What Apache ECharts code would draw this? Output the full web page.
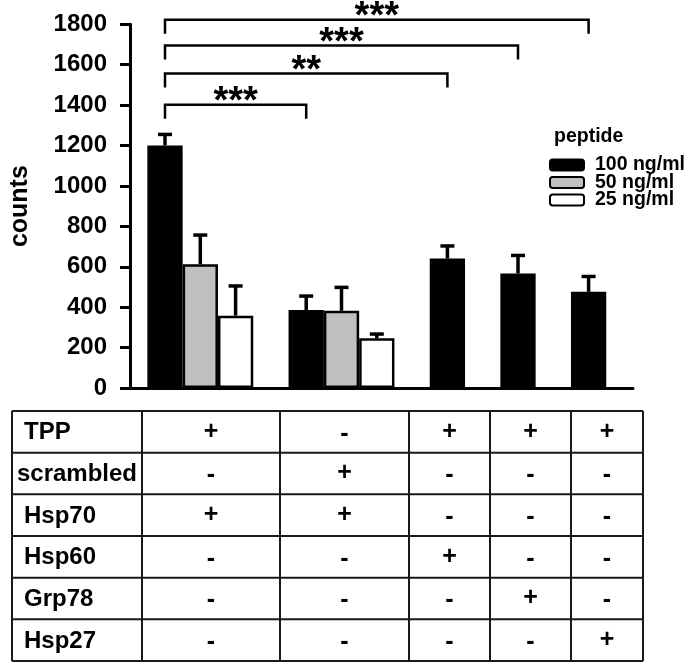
<!DOCTYPE html>
<html>
<head>
<meta charset="utf-8">
<script src="https://cdn.jsdelivr.net/npm/echarts@6/dist/echarts.min.js"></script>
<style>
html,body{margin:0;padding:0;background:#fff;}
#chart{width:688px;height:665px;}
</style>
</head>
<body>
<div id="chart"></div>
<script>
// ---------------- DATA ----------------
const groups = ['TPP + Hsp70', 'scrambled + Hsp70', 'TPP + Hsp60', 'TPP + Grp78', 'TPP + Hsp27'];
const seriesNames = ['100 ng/ml', '50 ng/ml', '25 ng/ml'];
const mean100 = [1200, 386, 641, 567, 476];
const err100  = [55, 69, 62, 89, 76];
const mean50  = [612, 382, null, null, null];
const err50   = [145, 116, null, null, null];
const mean25  = [358, 246, null, null, null];
const err25   = [147, 21, null, null, null];
const yTicks = [0, 200, 400, 600, 800, 1000, 1200, 1400, 1600, 1800];
// significance brackets: from group, to group (100 ng/ml bars), level (counts), label
const bracketFrom  = [0, 0, 0, 0];
const bracketTo    = [1, 2, 3, 4];
const bracketLevel = [1402, 1556, 1695, 1823];
const bracketLabel = ['***', '**', '***', '***'];
// condition table
const tableRows = ['TPP', 'scrambled', 'Hsp70', 'Hsp60', 'Grp78', 'Hsp27'];
const rowTPP       = ['+', '-', '+', '+', '+'];
const rowScrambled = ['-', '+', '-', '-', '-'];
const rowHsp70     = ['+', '+', '-', '-', '-'];
const rowHsp60     = ['-', '-', '+', '-', '-'];
const rowGrp78     = ['-', '-', '-', '+', '-'];
const rowHsp27     = ['-', '-', '-', '-', '+'];
const tableMarks = [rowTPP, rowScrambled, rowHsp70, rowHsp60, rowGrp78, rowHsp27];

// ---------------- LAYOUT (code) ----------------
const FONT = '"Liberation Sans", Arial, Helvetica, sans-serif';
const means = [mean100, mean50, mean25];
const errs = [err100, err50, err25];
// slot layout: each group occupies (number of bars) slots plus one gap slot
const groupStart = [];
let cursor = 0;
groups.forEach((g, gi) => {
  groupStart.push(cursor);
  const n = means.filter(m => m[gi] != null).length;
  cursor += n + 1;
});
const nSlots = cursor - 1;
const slotNames = [];
for (let i = 0; i < nSlots; i++) slotNames.push('s' + i);
const barSeriesData = means.map(() => new Array(nSlots).fill('-'));
const errData = [];
means.forEach((m, si) => {
  m.forEach((v, gi) => {
    if (v == null) return;
    const slot = groupStart[gi] + si;
    barSeriesData[si][slot] = v;
    errData.push([slot, v, errs[si][gi]]);
  });
});
const bracketData = bracketFrom.map((f, i) => [groupStart[f], bracketLevel[i], groupStart[bracketTo[i]]]);

const colors = ['#000000', '#c0c0c0', '#ffffff'];

// ---------------- TABLE (graphic) ----------------
const colX = [12, 142, 280, 409, 490, 571, 643];
const tableTop = 411, rowH = 41.67;
const graphics = [];
const tableFont = 'bold 24px ' + FONT;
const mctx = document.createElement('canvas').getContext('2d');
mctx.font = tableFont;
for (let r = 0; r <= tableRows.length; r++) {
  graphics.push({type: 'line', shape: {x1: colX[0], y1: tableTop + r * rowH, x2: colX[colX.length - 1], y2: tableTop + r * rowH},
    style: {stroke: '#1a1a1a', lineWidth: 2}});
}
colX.forEach(x => {
  graphics.push({type: 'line', shape: {x1: x, y1: tableTop, x2: x, y2: tableTop + tableRows.length * rowH},
    style: {stroke: '#1a1a1a', lineWidth: 2}});
});
tableRows.forEach((lab, r) => {
  const cy = tableTop + (r + 0.5) * rowH;
  const w = mctx.measureText(lab).width;
  const lx = Math.min(24, colX[1] - 5 - w);
  graphics.push({type: 'text', x: lx, y: cy + 1, style: {text: lab, font: tableFont, fill: '#000', align: 'left', verticalAlign: 'middle'}});
  tableMarks[r].forEach((mk, c) => {
    const cx = (colX[c + 1] + colX[c + 2]) / 2;
    graphics.push({type: 'text', x: cx, y: cy + (mk === '-' ? 2 : 0), style: {text: mk, font: 'bold 25px ' + FONT, fill: '#000', align: 'center', verticalAlign: 'middle'}});
  });
});
graphics.push({type: 'text', x: 554, y: 137, style: {text: 'peptide', font: 'bold 19.5px ' + FONT, fill: '#000', align: 'left', verticalAlign: 'middle'}});

// ---------------- CHART ----------------
const chart = echarts.init(document.getElementById('chart'), null, {renderer: 'canvas'});
const gridTop = 24.3, gridBottomY = 388;
const option = {
  animation: false,
  backgroundColor: '#fff',
  grid: [
    {left: 125, top: gridTop, width: 508, height: gridBottomY - gridTop, containLabel: false},
    {left: 147.35, top: gridTop, width: 35.3 * nSlots, height: gridBottomY - gridTop, containLabel: false}
  ],
  xAxis: [
    {gridIndex: 0, type: 'value', min: 0, max: 1, axisLine: {show: true, lineStyle: {color: '#000', width: 3}},
      axisTick: {show: false}, axisLabel: {show: false}, splitLine: {show: false}},
    {gridIndex: 1, type: 'category', data: slotNames, show: false, boundaryGap: true}
  ],
  yAxis: [
    {gridIndex: 0, type: 'value', min: yTicks[0], max: yTicks[yTicks.length - 1], interval: yTicks[1] - yTicks[0],
      name: 'counts', nameLocation: 'middle', nameGap: 97, nameRotate: 90,
      nameTextStyle: {fontSize: 25, fontWeight: 'bold', color: '#000', fontFamily: FONT},
      axisLine: {show: true, lineStyle: {color: '#000', width: 3}},
      axisTick: {show: true, inside: false, length: 10, lineStyle: {color: '#000', width: 3}},
      axisLabel: {fontSize: 24, fontWeight: 'bold', color: '#000', fontFamily: FONT, margin: 23,
        formatter: v => String(v)},
      splitLine: {show: false}},
    {gridIndex: 1, type: 'value', min: yTicks[0], max: yTicks[yTicks.length - 1], show: false, splitLine: {show: false}}
  ],
  legend: {
    data: seriesNames, orient: 'vertical', left: 549, top: 155, padding: 0, itemWidth: 34, itemHeight: 11, itemGap: -2.5,
    icon: 'roundRect', selectedMode: false,
    textStyle: {fontSize: 19.5, fontWeight: 'bold', color: '#000', fontFamily: FONT, lineHeight: 17.5, padding: [0, 0, 0, 6]}
  },
  graphic: graphics,
  series: [
    ...seriesNames.map((n, si) => ({
      name: n, type: 'bar', xAxisIndex: 1, yAxisIndex: 1, data: barSeriesData[si],
      barGap: '-100%', barCategoryGap: '0%',
      itemStyle: {color: colors[si], borderColor: '#000', borderWidth: 2.5},
      z: 2
    })),
    {
      type: 'custom', xAxisIndex: 1, yAxisIndex: 1, data: errData, z: 3, clip: false,
      renderItem: function (params, api) {
        const d = errData[params.dataIndex];
        const p0 = api.coord([d[0], d[1]]);
        const p1 = api.coord([d[0], d[1] + d[2]]);
        return {type: 'group', children: [
          {type: 'line', shape: {x1: p0[0], y1: p0[1], x2: p1[0], y2: p1[1]}, style: {stroke: '#000', lineWidth: 3.5}},
          {type: 'line', shape: {x1: p1[0] - 7, y1: p1[1], x2: p1[0] + 7, y2: p1[1]}, style: {stroke: '#000', lineWidth: 3.5}}
        ]};
      }
    },
    {
      type: 'custom', xAxisIndex: 1, yAxisIndex: 1, data: bracketData, z: 4, clip: false,
      renderItem: function (params, api) {
        const d = bracketData[params.dataIndex];
        const pa = api.coord([d[0], d[1]]);
        const pb = api.coord([d[2], d[1]]);
        const drop = 14;
        return {type: 'group', children: [
          {type: 'polyline', shape: {points: [[pa[0], pa[1] + drop], [pa[0], pa[1]], [pb[0], pb[1]], [pb[0], pb[1] + drop]]},
            style: {stroke: '#000', lineWidth: 2.5, fill: null}},
          {type: 'text', x: (pa[0] + pb[0]) / 2, y: pa[1] - 2,
            style: {text: bracketLabel[params.dataIndex], font: 'bold 38px ' + FONT, fill: '#000', align: 'center', verticalAlign: 'middle'}}
        ]};
      }
    }
  ]
};
chart.setOption(option);
</script>
</body>
</html>
